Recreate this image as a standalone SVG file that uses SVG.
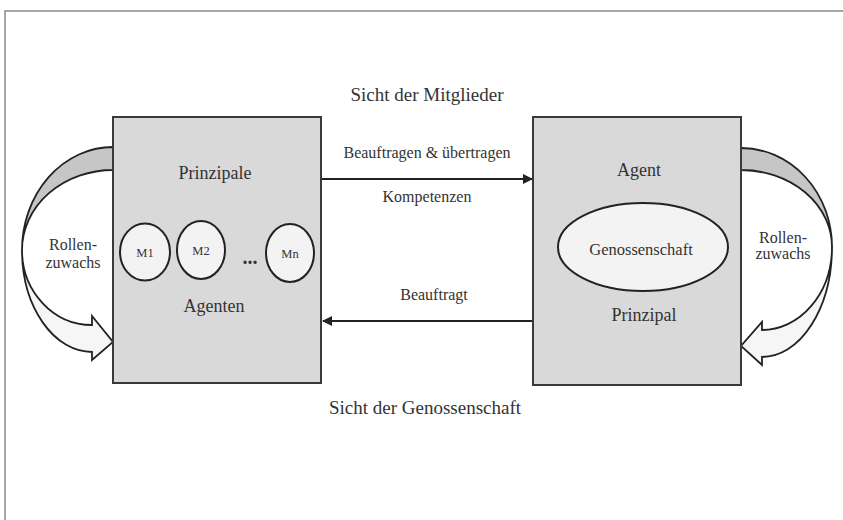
<svg xmlns="http://www.w3.org/2000/svg" width="843" height="520" viewBox="0 0 843 520">
<defs>
<style>
text{font-family:"Liberation Serif","Times New Roman",serif;fill:#333;text-anchor:middle}
.box{fill:#d9d9d9;stroke:#3a3a3a;stroke-width:2}
.ell{fill:#f3f3f3;stroke:#222;stroke-width:2}
.cres{fill:#c6c6c6;stroke:#222;stroke-width:1.8;stroke-linejoin:round}
.band{fill:#f6f6f6;stroke:#222;stroke-width:1.8;stroke-linejoin:miter}
.conn{stroke:#222;stroke-width:2;fill:none}
.frame{stroke:#8a8a8a;stroke-width:1.5;fill:none}
</style>
<marker id="ah" viewBox="0 0 10 10" refX="9" refY="5" markerWidth="5" markerHeight="5" orient="auto" markerUnits="strokeWidth">
<path d="M0,0 L10,5 L0,10 Z" fill="#222"/>
</marker>
</defs>
<rect width="843" height="520" fill="#fff"/>
<path class="frame" d="M5,520 L5,11 L843,11"/>

<text x="427" y="101" font-size="19">Sicht der Mitglieder</text>
<text x="425" y="414" font-size="19">Sicht der Genossenschaft</text>

<g id="rolle-links">
<path class="cres" d="M113,147 A91,103 0 0 0 22,250 A91,80 0 0 1 113,170 Z"/>
<path class="band" d="M22,250 A70,102 0 0 0 92,352 L92,360 L113,342 L92,316 L92,325 A70,75 0 0 1 22,250 Z"/>
<text x="73" y="250" font-size="16">Rollen-</text>
<text x="73" y="268" font-size="16">zuwachs</text>
</g>

<g id="rolle-rechts">
<path class="cres" d="M741,148 A91,99 0 0 1 832,247 A91,77 0 0 0 741,170 Z"/>
<path class="band" d="M832,247 A70,110 0 0 1 762,357 L762,365 L741,346 L762,322 L762,330 A70,83 0 0 0 832,247 Z"/>
<text x="783" y="243" font-size="16">Rollen-</text>
<text x="783" y="259" font-size="16">zuwachs</text>
</g>

<g id="mitglieder">
<rect class="box" x="113" y="117" width="208" height="266"/>
<text x="215" y="179" font-size="18">Prinzipale</text>
<g id="m1"><ellipse class="ell" cx="145" cy="252" rx="25" ry="28.5"/><text x="145" y="257" font-size="12.5">M1</text></g>
<g id="m2"><ellipse class="ell" cx="201" cy="250" rx="24" ry="29"/><text x="201" y="255" font-size="12.5">M2</text></g>
<text x="250" y="264" font-size="20" font-weight="bold">...</text>
<g id="mn"><ellipse class="ell" cx="290" cy="253" rx="24" ry="29"/><text x="290" y="258" font-size="12.5">Mn</text></g>
<text x="214" y="312" font-size="18">Agenten</text>
</g>

<g id="genossenschaft">
<rect class="box" x="533" y="117" width="208" height="268"/>
<text x="639" y="176" font-size="18">Agent</text>
<ellipse class="ell" cx="643" cy="247" rx="85" ry="44"/>
<text x="641" y="255" font-size="16.5">Genossenschaft</text>
<text x="644" y="321" font-size="18">Prinzipal</text>
</g>

<g id="connectors">
<line class="conn" x1="322" y1="179" x2="532" y2="179" marker-end="url(#ah)"/>
<line class="conn" x1="532" y1="321" x2="323" y2="321" marker-end="url(#ah)"/>
<text x="427" y="158" font-size="16">Beauftragen &amp; übertragen</text>
<text x="427" y="202" font-size="16">Kompetenzen</text>
<text x="434" y="300" font-size="16">Beauftragt</text>
</g>
</svg>
